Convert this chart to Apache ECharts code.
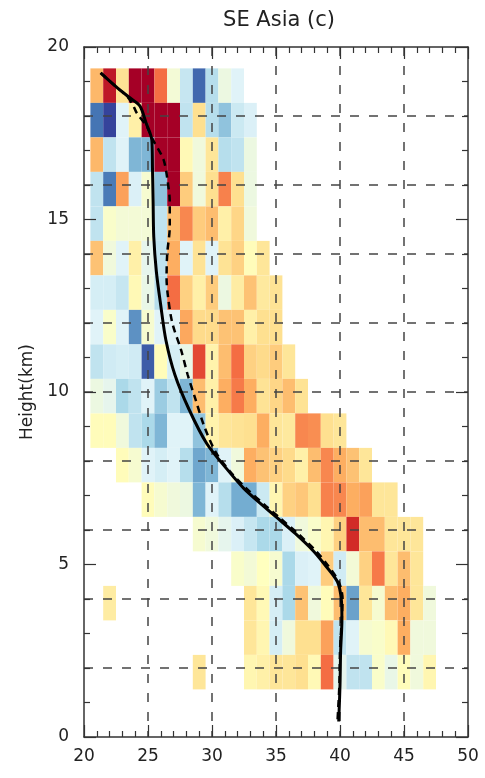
<!DOCTYPE html>
<html>
<head>
<meta charset="utf-8">
<script src="https://cdn.jsdelivr.net/npm/echarts@6/dist/echarts.min.js"></script>
<style>
html,body{margin:0;padding:0;background:#fff;}
#chart{width:485px;height:778px;}
</style>
</head>
<body>
<div id="chart"></div>
<script>
// column centres (x) and level centres (height, km)
var xCenters = [21,22,23,24,25,26,27,28,29,30,31,32,33,34,35,36,37,38,39,40,41,42,43,44,45,46,47];
var heights  = [18.88,17.88,16.88,15.88,14.88,13.88,12.88,11.88,10.88,9.88,8.88,7.88,6.88,5.88,4.88,3.88,2.88,1.88];
var _ = null;
// anomaly values per row (top row first), one entry per column in xCenters
var row19 = [1.8,4.5,0.9,5,5,3,-0.4,-1.5,-4.2,-1.8,-0.6,-1,_,_,_,_,_,_,_,_,_,_,_,_,_,_,_];
var row18 = [-4,-4.8,-1,0.5,5,5,5,-1.6,1,-1.8,-2.5,-1.4,-1.1,_,_,_,_,_,_,_,_,_,_,_,_,_,_];
var row17 = [1.8,-1.6,-1,-2.8,-2.8,5,5,0.2,-0.5,0.8,-1.8,-1.6,-0.6,_,_,_,_,_,_,_,_,_,_,_,_,_,_];
var row16 = [-1.6,-3.9,2.2,-1.1,-0.3,-2.5,5,1.4,-0.5,1,2.7,1,-0.6,_,_,_,_,_,_,_,_,_,_,_,_,_,_];
var row15 = [-1.6,-0.2,-0.4,-0.4,-0.4,-1.6,1.7,2.6,1.4,1.7,0.5,1.2,-0.5,_,_,_,_,_,_,_,_,_,_,_,_,_,_];
var row14 = [1.6,-0.5,-1,0.5,-0.8,-1.6,2,-1,0.9,-1,0.9,1.3,0.1,0.8,_,_,_,_,_,_,_,_,_,_,_,_,_];
var row13 = [-1.2,-1.2,-1.5,0.2,-0.7,-1.8,3,1.3,0.5,1.4,-0.6,0.6,1.6,0.7,0.9,_,_,_,_,_,_,_,_,_,_,_,_];
var row12 = [-1,-0.2,-1,-3.5,-0.3,-1,-1,2.1,1.1,1.1,1.6,1.6,0.5,1,1,_,_,_,_,_,_,_,_,_,_,_,_];
var row11 = [-1.6,-1.3,-1.2,-1.3,-4.4,0.1,-1.2,-0.7,3.6,0.4,1.7,3,1.3,1.1,1.4,0.8,_,_,_,_,_,_,_,_,_,_,_];
var row10 = [-0.6,-0.8,-2,-1.6,-1,-2.3,-1.6,-2.8,1.7,0.5,2,2.8,2,0.9,1.2,1.7,0.9,_,_,_,_,_,_,_,_,_,_];
var row9  = [0.1,0.1,-0.5,-1.6,-2,-2.8,-1,-1,-2.5,0.4,0.8,0.9,1,2,0.8,0.7,2.6,2.5,1,0.8,_,_,_,_,_,_,_];
var row8  = [_,_,0.1,-0.3,-1,-1.2,-1,-1.8,-3.1,-2.8,-1,-0.5,2,1.6,1.3,1.1,0.5,1.7,2.6,2,1.6,0.8,_,_,_,_,_];
var row7  = [_,_,_,_,0.1,-0.3,-0.5,-0.6,-2.8,-1,-1.8,-3,-3,-1.4,0.3,1.3,1.5,1,2.7,2.6,2,2.2,0.8,0.8,_,_,_];
var row6  = [_,_,_,_,_,_,_,_,-0.3,-0.5,-0.8,-1.1,-1.5,-2,-2,-1.1,-0.5,-0.2,0.3,1.3,4.1,1.7,1.7,0.8,0.8,0.8,_];
var row5  = [_,_,_,_,_,_,_,_,_,_,_,-0.2,-0.4,0,-0.3,-2,-1.1,-1,1.4,-1.3,-0.4,1.3,2.8,0.8,1.7,0.8,_];
var row4  = [_,0.6,_,_,_,_,_,_,_,_,_,_,0.8,0.2,-1.2,-2,1.6,-0.5,0.1,1.7,-3.2,0.8,-0.3,1.7,2,0.8,-0.5];
var row3  = [_,_,_,_,_,_,_,_,_,_,_,_,0.8,0.3,-1.2,-0.5,1,1,2.2,-1.6,-1,-0.3,-0.2,0.2,2,-0.5,-0.5];
var row2  = [_,_,_,_,_,_,_,_,0.8,_,_,_,0.3,0.5,0.8,0.8,1,0.2,3,-0.8,-1.6,-1.6,-0.2,-0.7,0.1,-0.5,0.3];
var rows = [row19,row18,row17,row16,row15,row14,row13,row12,row11,row10,row9,row8,row7,row6,row5,row4,row3,row2];

// profiles: x value and height (km)
var solidX  = [21.3,22.5,23.5,24.35,24.85,25.3,25.35,25.4,25.45,25.65,26.0,26.4,27.1,28.2,29.6,31.2,32.5,34.0,35.1,36.5,37.9,38.8,39.8,40.1,40.15,40.05,40.0,39.9];
var solidH  = [19.25,18.85,18.55,18.3,17.8,17.3,16.5,15.5,14.5,13.5,12.5,11.5,10.5,9.5,8.5,7.75,7.2,6.7,6.35,5.9,5.4,5.0,4.5,4.0,3.4,2.5,1.5,0.45];
var dashX   = [21.3,22.5,23.4,23.85,24.1,24.9,25.4,26.2,26.5,26.7,26.7,26.5,26.45,26.55,26.9,27.6,28.1,28.7,29.4,30.3,31.4,32.7,34.2,35.3,36.7,38.1,39.0,39.9,40.2,40.15,40.0,39.95,39.8];
var dashH   = [19.25,18.85,18.55,18.3,18.1,17.7,17.3,16.75,16.2,15.5,14.8,14.0,13.3,12.8,12.0,11.2,10.5,9.8,9.0,8.25,7.7,7.2,6.7,6.35,5.9,5.4,5.0,4.5,4.0,3.5,2.5,1.5,0.45];

var xTicks = [20,25,30,35,40,45,50];
var yTicks = [0,5,10,15,20];

var cells = [];
rows.forEach(function(r, i){
  r.forEach(function(v, j){
    if (v !== null) cells.push([xCenters[j], heights[i], v]);
  });
});
function pairs(xs, hs){ return xs.map(function(x,i){ return [x, hs[i]]; }); }

var FONT = 'DejaVu Sans';
var TXT = '#222';
var AX = '#333';
var chart = echarts.init(document.getElementById('chart'), null, {renderer:'canvas'});
var tickCommon = {show:true, inside:true, length:12, lineStyle:{color:AX, width:1.2}};
var minorCommon = {show:true, splitNumber:5, length:6, lineStyle:{color:AX, width:1.2}};
var dashGrid = {show:true, showMinLine:false, showMaxLine:false, lineStyle:{color:'#444', width:1.5, type:[9,10]}};

chart.setOption({
  animation:false,
  backgroundColor:'#fff',
  title:{text:'SE Asia (c)', left:274, top:5, textAlign:'center',
    textStyle:{fontFamily:FONT, fontSize:21, fontWeight:'normal', color:TXT}},
  grid:{left:84, right:17, top:47, bottom:41},
  visualMap:{show:false, type:'continuous', min:-5, max:5, dimension:2, seriesIndex:0,
    inRange:{color:['#313695','#4575b4','#74add1','#abd9e9','#e0f3f8','#ffffbf','#fee090','#fdae61','#f46d43','#d73027','#a50026']}},
  xAxis:[
    {type:'value', position:'bottom', min:xTicks[0], max:xTicks[xTicks.length-1], interval:5, z:3,
      axisLine:{show:true, onZero:false, lineStyle:{color:AX, width:1.5}},
      axisTick:tickCommon, minorTick:minorCommon, splitLine:dashGrid,
      axisLabel:{fontFamily:FONT, fontSize:17, color:TXT, margin:11}},
    {type:'value', position:'top', min:xTicks[0], max:xTicks[xTicks.length-1], interval:5, z:3,
      axisLine:{show:true, onZero:false, lineStyle:{color:AX, width:1.5}},
      axisTick:tickCommon, minorTick:minorCommon, splitLine:{show:false}, axisLabel:{show:false}}
  ],
  yAxis:[
    {type:'value', position:'left', min:yTicks[0], max:yTicks[yTicks.length-1], interval:5, z:3,
      name:'Height(km)', nameLocation:'middle', nameGap:47, nameRotate:90,
      nameTextStyle:{fontFamily:FONT, fontSize:17, color:TXT},
      axisLine:{show:true, onZero:false, lineStyle:{color:AX, width:1.5}},
      axisTick:tickCommon, minorTick:minorCommon, splitLine:{show:false},
      axisLabel:{fontFamily:FONT, fontSize:17, color:TXT, margin:15}},
    {type:'value', position:'right', min:yTicks[0], max:yTicks[yTicks.length-1], interval:5, z:3,
      axisLine:{show:true, onZero:false, lineStyle:{color:AX, width:1.5}},
      axisTick:tickCommon, minorTick:minorCommon, splitLine:{show:false}, axisLabel:{show:false}},
    {type:'value', position:'left', min:0, max:20, interval:2, z:3,
      axisLine:{show:false}, axisTick:{show:false}, axisLabel:{show:false}, splitLine:dashGrid}
  ],
  series:[
    {type:'custom', xAxisIndex:0, yAxisIndex:0, z:1, data:cells, encode:{x:0, y:1},
      renderItem:function(params, api){
        var x = api.value(0), h = api.value(1);
        var p0 = api.coord([x - 0.5, h + 0.5]);
        var p1 = api.coord([x + 0.5, h - 0.5]);
        return {type:'rect', shape:{x:p0[0], y:p0[1], width:p1[0]-p0[0], height:p1[1]-p0[1]},
          style:{fill:api.visual('color'), stroke:null}};
      }},
    {type:'line', xAxisIndex:0, yAxisIndex:0, z:10, data:pairs(solidX, solidH), showSymbol:false, smooth:0.3,
      lineStyle:{color:'#000', width:3}},
    {type:'line', xAxisIndex:0, yAxisIndex:0, z:10, data:pairs(dashX, dashH), showSymbol:false, smooth:0.3,
      lineStyle:{color:'#000', width:2.5, type:[7,5]}}
  ]
});
</script>
</body>
</html>
